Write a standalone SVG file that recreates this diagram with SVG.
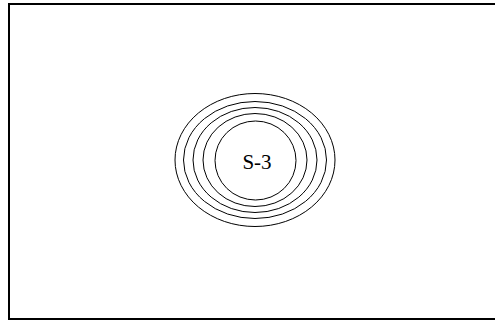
<svg xmlns="http://www.w3.org/2000/svg" width="495" height="320" viewBox="0 0 495 320">
  <style>
    .ring { fill: none; stroke: #000; stroke-width: 1; }
    .label { font-family: "Liberation Serif", "Times New Roman", serif; font-size: 21px; fill: #000; }
  </style>
  <rect x="0" y="0" width="495" height="320" fill="#fff"/>
  <rect x="9" y="4" width="492" height="315" fill="none" stroke="#000" stroke-width="2"/>
  <g id="node-S-3">
    <ellipse class="ring" cx="255" cy="160" rx="80" ry="66.5"/>
    <ellipse class="ring" cx="255" cy="160" rx="71.5" ry="58.5"/>
    <ellipse class="ring" cx="255" cy="160" rx="62" ry="52.5"/>
    <ellipse class="ring" cx="255" cy="160" rx="52" ry="46.5"/>
    <ellipse class="ring" cx="255.5" cy="160.5" rx="40.5" ry="39.5"/>
    <text class="label" x="257" y="169" text-anchor="middle">S-3</text>
  </g>
  <g id="connectors"/>
</svg>
